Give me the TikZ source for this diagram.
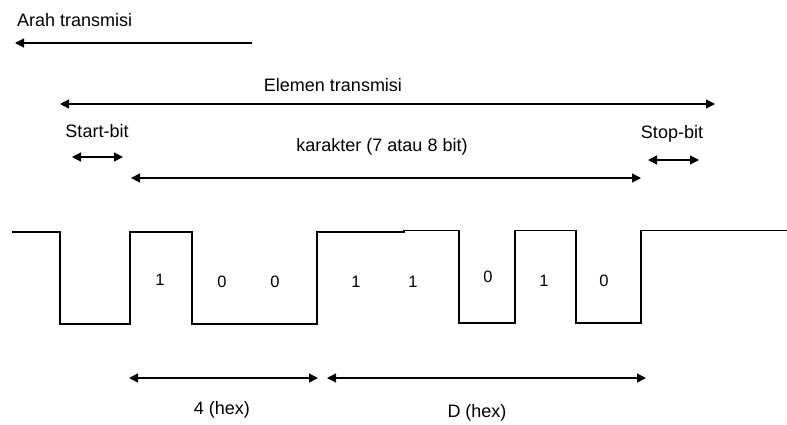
\documentclass[tikz,border=0pt]{standalone}
\usepackage{fontspec}
\setmainfont{Liberation Sans}
\usetikzlibrary{arrows.meta}
\begin{document}
\begin{tikzpicture}[x=1pt,y=-1pt,
  lbl/.style={inner sep=0pt,font=\fontsize{18}{20}\selectfont},
  dig/.style={inner sep=0pt,font=\fontsize{16.5}{18}\selectfont},
  line/.style={line width=1.3pt},
  oneway/.style={line, -{Triangle[length=9pt,width=9pt]}},
  twoway/.style={line, {Triangle[length=9pt,width=9pt]}-{Triangle[length=9pt,width=9pt]}}]
\useasboundingbox (0,0) rectangle (787,424);
% labels
\node[lbl,anchor=west] (arah) at (17,20) {Arah transmisi};
\node[lbl] (elemen) at (333,85) {Elemen transmisi};
\node[lbl] (start) at (97,131) {Start-bit};
\node[lbl] (kar) at (382,147) {karakter (7 atau 8 bit)};
\node[lbl] (stop) at (672,134) {Stop-bit};
\node[lbl] (hex4) at (222,410) {4 (hex)};
\node[lbl] (hexD) at (477,413) {D (hex)};
% arrow end points
\coordinate (a1) at (252,43); \coordinate (a2) at (15,43);
\coordinate (e1) at (60,104); \coordinate (e2) at (715,104);
\coordinate (s1) at (72,157); \coordinate (s2) at (123,157);
\coordinate (k1) at (131,178); \coordinate (k2) at (641,178);
\coordinate (p1) at (648,160); \coordinate (p2) at (699,160);
\coordinate (h1) at (129,378); \coordinate (h2) at (318,378);
\coordinate (d1) at (327,378); \coordinate (d2) at (646,378);
\draw[oneway] (a1) -- (a2);
\draw[twoway] (e1) -- (e2);
\draw[twoway] (s1) -- (s2);
\draw[twoway] (k1) -- (k2);
\draw[twoway] (p1) -- (p2);
\draw[twoway] (h1) -- (h2);
\draw[twoway] (d1) -- (d2);
% waveform
\draw[line] (12,232) -- (60,232) -- (60,324) -- (130,324) -- (130,232) -- (192,232)
  -- (192,324) -- (317,324) -- (317,232) -- (404,232) -- (404,230.5) -- (459,230.5)
  -- (459,323) -- (515,323) -- (515,230.5) -- (576,230.5) -- (576,323) -- (641,323)
  -- (641,230.5) -- (787,230.5);
% bits
\node[dig] (b1) at (160,280) {1};
\node[dig] (b2) at (222,282) {0};
\node[dig] (b3) at (275,282) {0};
\node[dig] (b4) at (356,282) {1};
\node[dig] (b5) at (413,282) {1};
\node[dig] (b6) at (488,277) {0};
\node[dig] (b7) at (544,281) {1};
\node[dig] (b8) at (604,281) {0};
\end{tikzpicture}
\end{document}
